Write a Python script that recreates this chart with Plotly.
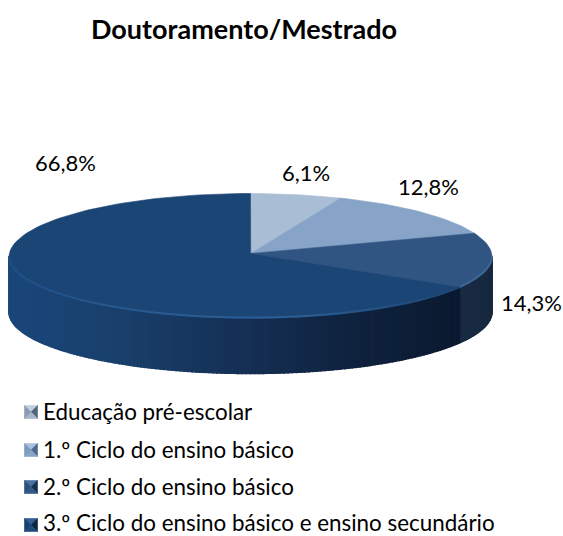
import math
import plotly.graph_objects as go

categories = ["Educação pré-escolar", "1.º Ciclo do ensino básico",
              "2.º Ciclo do ensino básico", "3.º Ciclo do ensino básico e ensino secundário"]
values = [6.1, 12.8, 14.3, 66.8]
percent_labels = ["6,1%", "12,8%", "14,3%", "66,8%"]
title_text = "Doutoramento/Mestrado"

top_colors = ["#a9bdd4", "#87a4c8", "#305582", "#1b4574"]
swatch_colors = [("#8a9db5", "#55657a", "#c3cfdd", "#a6b7ca"),
                 ("#7c9abf", "#4f6a8d", "#a9c0dc", "#88a5c8"),
                 ("#2c4f7c", "#16304f", "#46709f", "#315a8a"),
                 ("#1a4070", "#0d2642", "#2f5f96", "#1f4a7c")]
label_xy = [(306, 172), (428, 186), (531, 302), (65, 162)]
legend_y = [412, 450, 487, 525]
legend_text_y = [411, 449, 486, 522.5]

W, H = 563, 536
CX, CY = 250.5, 257.0
AX, AY = 250.7, 253.5
RX, RY_UP, RY_DN = 241.5, 63.5, 61.5
DEPTH = 55.0


def pt(deg, off=0.0):
    """Rim point, degrees clockwise from 12 o'clock."""
    r = math.radians(deg)
    c = math.cos(r)
    return CX + RX * math.sin(r), CY - c * (RY_UP if c > 0 else RY_DN) + off


def mix(stops, x):
    for (x0, c0), (x1, c1) in zip(stops, stops[1:]):
        if x <= x1:
            t = max(0, (x - x0) / (x1 - x0))
            rgb = [int(c0[i:i + 2], 16) * (1 - t) + int(c1[i:i + 2], 16) * t for i in (1, 3, 5)]
            return "rgb(%d,%d,%d)" % tuple(rgb)
    return stops[-1][1]


side_stops = [(9, "#1b477c"), (110, "#1a416d"), (250, "#152f54"), (350, "#10233f"), (460, "#0b1a30")]
side_stops_s3 = [(460, "#1a2c45"), (492, "#17283f")]

fig = go.Figure()
edges = [0.0]
for v in values:
    edges.append(edges[-1] + v / sum(values) * 360)


def poly(xs, ys, color, w=0.6):
    fig.add_trace(go.Scatter(x=xs, y=ys, mode="lines", fill="toself", fillcolor=color,
                             line=dict(color=color, width=w), hoverinfo="skip", showlegend=False))


# side wall (front half of the rim only)
deg = 90.0
step = 1.0
while deg < 270:
    d1 = min(deg + step, 270)
    x0, y0 = pt(deg)
    x1, y1 = pt(d1)
    mid = (deg + d1) / 2
    col = mix(side_stops_s3, (x0 + x1) / 2) if mid < edges[3] else mix(side_stops, (x0 + x1) / 2)
    poly([x0, x1, x1, x0, x0], [y0, y1, y1 + DEPTH, y0 + DEPTH, y0], col, w=1.5)
    deg = d1

# top face
for i in range(4):
    n = max(4, int((edges[i + 1] - edges[i]) / 2))
    angs = [edges[i] + (edges[i + 1] - edges[i]) * k / n for k in range(n + 1)]
    pts = [pt(a) for a in angs]
    poly([AX] + [p[0] for p in pts] + [AX], [AY] + [p[1] for p in pts] + [AY], top_colors[i])

# bevel highlight along the front rim
bevel_stops = [(9, "#1e5089"), (150, "#2a5c94"), (300, "#2d5f96"), (460, "#1d4672")]
deg = 90.0
while deg < 270:
    d1 = min(deg + 3, 270)
    x0, y0 = pt(deg, -1)
    x1, y1 = pt(d1, -1)
    col = "#3f6795" if deg < edges[3] else mix(bevel_stops, (x0 + x1) / 2)
    fig.add_trace(go.Scatter(x=[x0, x1], y=[y0, y1], mode="lines", line=dict(color=col, width=2),
                             hoverinfo="skip", showlegend=False))
    deg = d1

# legend swatches
S = 6.5
for i, yc in enumerate(legend_y):
    xc = 31
    tl, tr, br, bl = (xc - S, yc - S), (xc + S, yc - S), (xc + S, yc + S), (xc - S, yc + S)
    m = (xc, yc)
    for (a, b), col in zip([(tl, tr), (tr, br), (br, bl), (bl, tl)],
                           [swatch_colors[i][2], swatch_colors[i][1], swatch_colors[i][3], swatch_colors[i][0]]):
        poly([a[0], b[0], m[0], a[0]], [a[1], b[1], m[1], a[1]], col)

FONT = "Lato, Carlito, Calibri, sans-serif"
ann = []
for (x, y), t in zip(label_xy, percent_labels):
    ann.append(dict(x=x, y=y, text=t, showarrow=False, xanchor="center", yanchor="middle",
                    font=dict(family=FONT, size=22, color="#000000")))
for y, t in zip(legend_text_y, categories):
    ann.append(dict(x=43, y=y, text=t, showarrow=False, xanchor="left", yanchor="middle", xshift=-2,
                    font=dict(family=FONT, size=22.4, color="#000000")))
ann.append(dict(x=244, y=28, text="<b>%s</b>" % title_text, showarrow=False, xanchor="center", yanchor="middle",
                font=dict(family=FONT, size=27, color="#000000")))

fig.update_layout(
    width=W, height=H, margin=dict(l=0, r=0, t=0, b=0), showlegend=False,
    paper_bgcolor="#ffffff", plot_bgcolor="#ffffff", annotations=ann,
    xaxis=dict(range=[0, W], visible=False, fixedrange=True),
    yaxis=dict(range=[H, 0], visible=False, fixedrange=True),
)
fig.write_html("out.html", config={"displayModeBar": False},
               post_script="document.body.style.margin='0';")
